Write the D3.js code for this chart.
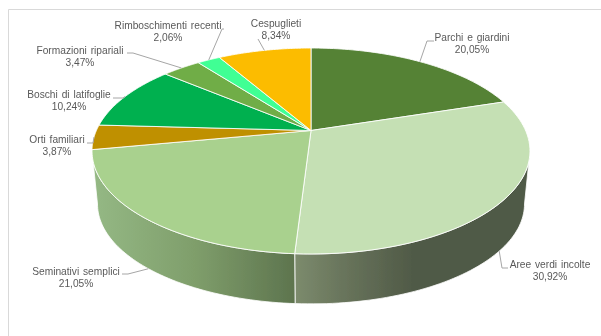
<!DOCTYPE html>
<html><head><meta charset="utf-8">
<script src="https://cdn.jsdelivr.net/npm/d3@7/dist/d3.min.js"></script>
<style>html,body{margin:0;padding:0;background:#fff}svg{display:block}text{font-family:"Liberation Sans",Arial,sans-serif;font-size:10.2px;fill:#595959;text-anchor:middle;word-spacing:1px}</style>
</head><body><svg id="c" width="601" height="336"></svg>
<script>
const categories=["Parchi e giardini","Aree verdi incolte","Seminativi semplici","Orti familiari","Boschi di latifoglie","Formazioni ripariali","Rimboschimenti recenti","Cespuglieti"];
const shares=[20.05,30.92,21.05,3.87,10.24,3.47,2.06,8.34];
const shareLabels=["20,05%","30,92%","21,05%","3,87%","10,24%","3,47%","2,06%","8,34%"];
const colors=["#548235","#c5e0b4","#a9d18e","#bf9000","#00b050","#70ad47","#40ff94","#fcbc00"];
const labelX=[472,550,76,57,69,80,168,276];
const labelY=[41,268,275,143,98,54,29,27];
const elbowX=[[434,427],[508,502],[122,128],[87,93],[113,123],[127,133],[224,222],[258,258]];
const elbowY=[41,268,274,143,98,53,29,39];
const anchorOnBase=[false,true,true,false,false,false,false,false];

const svg=d3.select("#c");
const blur=svg.append("defs").append("filter").attr("id","soft").attr("x","0").attr("y","0").attr("width","1").attr("height","1");
blur.append("feGaussianBlur").attr("stdDeviation",0.45);
const root=svg.append("g").attr("filter","url(#soft)");
root.append("rect").attr("width",601).attr("height",336).attr("fill","#fff");
root.append("path").attr("d",d3.line()([[8.5,336],[8.5,9.5],[601,9.5]])).attr("fill","none").attr("stroke","#d9d9d9");

// perspective projection of the pie disc
const ox=311,oy=130.5,A=214.6,B=98.9,k=0.199,ecy=151,baseCy=204,sx=0.975,sy=0.97;
const top_=t=>{const u=Math.sin(t),v=Math.cos(t),w=1+k*v;return [ox+A*u/w,oy-B*v/w];};
const base=t=>{const p=top_(t);return [ox+sx*(p[0]-ox),baseCy+sy*(p[1]-ecy)];};
const arcs=d3.pie().sort(null).value(d=>d).startAngle(0).endAngle(2*Math.PI)(shares);
const samples=(a,b)=>d3.range(0,61).map(i=>a+(b-a)*i/60);
const line=d3.line();
const tR=Math.acos(-k),tL=2*Math.PI-tR;

const defs=svg.select("defs");
function grad(id,x1,x2,stops){
  const g=defs.append("linearGradient").attr("id",id).attr("gradientUnits","userSpaceOnUse").attr("x1",x1).attr("x2",x2).attr("y1",0).attr("y2",0);
  stops.forEach(s=>g.append("stop").attr("offset",s[0]).attr("stop-color",s[1]));
}
grad("w1",295,530,[[0,"#7c8b6d"],[0.2,"#69755c"],[0.5,"#505a47"],[1,"#505a47"]]);
grad("w2",95,295,[[0,"#94b884"],[0.5,"#7f9e6b"],[1,"#5d744e"]]);

// walls
[[1,"url(#w1)"],[2,"url(#w2)"]].forEach(([i,fill])=>{
  const a=Math.max(arcs[i].startAngle,tR),b=Math.min(arcs[i].endAngle,tL);
  const pts=samples(a,b).map(top_).concat(samples(a,b).reverse().map(base));
  root.append("path").attr("d",line(pts)+"Z").attr("fill",fill).attr("stroke","#fff").attr("stroke-width",0.8);
});
// top slices
arcs.forEach((d,i)=>{
  const pts=[[ox,oy]].concat(samples(d.startAngle,d.endAngle).map(top_));
  root.append("path").attr("d",line(pts)+"Z").attr("fill",colors[i]).attr("stroke","#fff").attr("stroke-opacity",0.85).attr("stroke-width",1);
});
// labels and leaders
arcs.forEach((d,i)=>{
  const mid=(d.startAngle+d.endAngle)/2;
  const end=(anchorOnBase[i]?base:top_)(mid);
  const pts=elbowX[i].map(x=>[x,elbowY[i]]).concat([end]);
  root.append("path").attr("d",line(pts)).attr("fill","none").attr("stroke","#a6a6a6").attr("stroke-width",1);
  root.append("text").attr("x",labelX[i]).attr("y",labelY[i]).text(categories[i]);
  root.append("text").attr("x",labelX[i]).attr("y",labelY[i]+12).text(shareLabels[i]);
});
</script></body></html>
